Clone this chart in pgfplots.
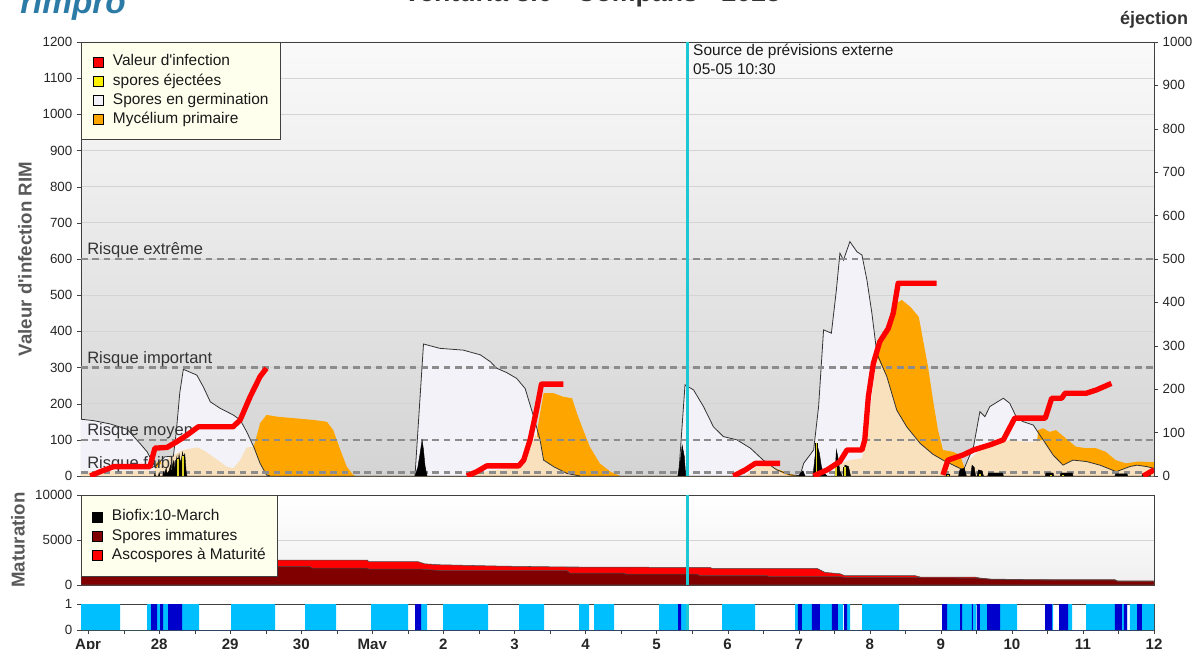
\documentclass[border=0pt]{standalone}
\usepackage{pgfplots}
\pgfplotsset{compat=1.18}
\usepackage{fontspec}
\setmainfont{Liberation Sans}
\definecolor{germ}{HTML}{F2F2F8}
\definecolor{myc}{HTML}{FFA500}
\definecolor{wheatc}{HTML}{FAE1BD}
\definecolor{cyanl}{HTML}{1EC8D2}
\definecolor{lblue}{HTML}{00BFFF}
\definecolor{dblue}{HTML}{0000CD}
\definecolor{ivory}{HTML}{FFFFEE}
\definecolor{darkred}{HTML}{800000}
\definecolor{logo}{HTML}{2B7BA6}
\pgfplotsset{
 base/.style={scale only axis, width=804.75pt, xmin=-0.1, xmax=15,
   tick label style={font=\fontsize{10}{12}\selectfont, text=black!85},
   /pgf/number format/assume math mode=true,
   /pgf/number format/1000 sep={},
   scaled y ticks=false,
   axis line style={black!75},
   tick style={black!75},
   tick align=outside,
   major tick length=3pt, minor tick length=3pt,
 },
 sq/.style={legend image code/.code={\draw[fill=#1, draw=black, line width=0.6pt] (0pt,-3.75pt) rectangle (7.5pt,3.75pt);}},
 leg/.style={legend style={at={(0,1)}, anchor=north west, fill=ivory, draw=black!75, line width=0.75pt,
   font=\fontsize{11.6}{13.9}\selectfont, text=black!90, inner xsep=8.25pt, inner ysep=#1, row sep=1.2pt,
   nodes={inner sep=1pt, text depth=2.6pt, text height=8.6pt},
   /tikz/every odd column/.append style={column sep=6.25pt}},
   legend cell align=left},
 risk/.style={black!45, dash pattern=on 5pt off 3.5pt, line width=1.8pt, forget plot},
}
\tikzset{rtxt/.style={anchor=base west, font=\fontsize{12.4}{14}\selectfont, text=black!80, inner sep=0pt, yshift=3.2pt}}
\begin{document}
\begin{tikzpicture}
% ---------- main panel: areas ----------
\begin{axis}[base, at={(60.75pt,-357pt)}, anchor=south west, height=325.5pt,
  ymin=0, ymax=1200, ytick={0,100,...,1200}, ytick pos=left, xtick=\empty,
  ymajorgrids, grid style={black!17, line width=0.6pt},
  axis background/.style={top color=black!2, bottom color=black!17}]
\addplot[fill=germ, draw=none] coordinates {
(-0.1,157) (0.08,153) (0.31,144) (0.55,129) (0.73,90) (0.83,67) (0.94,26) (1.08,53) (1.20,55) (1.24,120) (1.29,230) (1.34,295) (1.53,279) (1.62,247) (1.72,205) (1.86,187) (2.04,169) (2.14,155) (2.23,123) (2.33,81) (2.42,35) (2.51,3) (2.56,0)
(4.60,0) (4.72,365) (4.95,353) (5.28,348) (5.52,335) (5.66,316) (5.75,298) (5.89,286) (6.03,270) (6.15,242) (6.27,164) (6.36,100) (6.41,44) (6.55,26) (6.74,7) (6.92,0)
(8.31,0) (8.40,252) (8.52,238) (8.66,192) (8.80,136) (8.94,109) (9.13,100) (9.32,77) (9.50,44) (9.69,17) (9.88,3) (10.02,1) (10.07,35) (10.21,72) (10.28,192) (10.35,404) (10.46,395) (10.53,514) (10.58,616) (10.63,597) (10.72,648) (10.82,620) (10.89,611) (10.96,542) (11.03,450) (11.10,339) (11.24,275) (11.38,182) (11.52,136) (11.71,90) (11.89,60) (12.03,44) (12.27,21) (12.32,17) (12.46,81) (12.55,178) (12.62,164) (12.69,192) (12.88,215) (12.97,201) (13.07,160) (13.16,150) (13.30,141) (13.44,100) (13.58,58) (13.72,30) (13.86,44) (14.05,40) (14.24,30) (14.47,12) (14.66,26) (14.76,30) (14.90,26) (15.0,21)
} \closedcycle;
\addplot[fill=myc, draw=none] coordinates {
(0.93,0) (0.96,35) (1.02,45) (1.06,0)
(2.28,0) (2.33,81) (2.37,109) (2.42,146) (2.51,169) (2.66,164) (2.89,160) (3.17,155) (3.36,150) (3.45,127) (3.55,72) (3.64,26) (3.73,3) (3.77,0)
(6.30,0) (6.32,127) (6.41,229) (6.55,229) (6.69,219) (6.81,215) (6.88,173) (6.95,136) (7.06,81) (7.20,35) (7.35,12) (7.49,0)
(9.55,0) (9.62,25) (9.75,15) (9.90,5) (9.98,0)
(11.07,0) (11.10,330) (11.19,376) (11.28,413) (11.38,478) (11.45,487) (11.57,468) (11.69,440) (11.75,376) (11.82,302) (11.89,210) (11.96,127) (12.03,72) (12.17,67) (12.27,58) (12.32,30) (12.36,0)
(13.31,0) (13.37,127) (13.44,132) (13.53,122) (13.62,127) (13.76,104) (13.90,81) (14.04,77) (14.18,77) (14.32,67) (14.46,44) (14.60,35) (14.79,40) (15.0,38)
} \closedcycle;
\addplot[fill=wheatc, draw=none] coordinates {
(-0.1,12) (0.5,14) (0.92,15) (1.03,35) (1.16,53) (1.34,72) (1.53,79) (1.62,72) (1.76,53) (1.95,26) (2.04,21) (2.14,44) (2.23,79) (2.33,81) (2.42,35) (2.51,3) (2.56,0)
(5.33,0) (5.66,15) (5.98,20) (6.12,40) (6.22,72) (6.29,115) (6.36,100) (6.41,44) (6.55,26) (6.74,7) (6.92,0)
(9.25,0) (9.40,25) (9.60,28) (9.69,17) (9.80,5) (9.90,0)
(10.50,0) (10.60,35) (10.72,44) (10.89,49) (10.96,109) (11.03,219) (11.10,330) (11.24,275) (11.38,182) (11.52,136) (11.71,90) (11.89,60) (12.03,44) (12.27,21) (12.32,17) (12.40,44) (12.55,72) (12.79,86) (12.97,100) (13.16,95) (13.35,95) (13.44,100) (13.58,58) (13.72,30) (13.86,44) (14.05,40) (14.24,30) (14.47,12) (14.66,26) (14.76,30) (14.90,26) (15.0,21)
} \closedcycle;
\addplot[black!80, line width=0.6pt] coordinates {
(-0.1,157) (0.08,153) (0.31,144) (0.55,129) (0.73,90) (0.83,67) (0.94,26) (1.08,53) (1.20,55) (1.24,120) (1.29,230) (1.34,295) (1.53,279) (1.62,247) (1.72,205) (1.86,187) (2.04,169) (2.14,155) (2.23,123) (2.33,81) (2.42,35) (2.51,3) (2.56,0)
};
\addplot[black!80, line width=0.6pt] coordinates {
(4.60,0) (4.72,365) (4.95,353) (5.28,348) (5.52,335) (5.66,316) (5.75,298) (5.89,286) (6.03,270) (6.15,242) (6.27,164) (6.36,100) (6.41,44) (6.55,26) (6.74,7) (6.92,0)
};
\addplot[black!80, line width=0.6pt] coordinates {
(8.31,0) (8.40,252) (8.52,238) (8.66,192) (8.80,136) (8.94,109) (9.13,100) (9.32,77) (9.50,44) (9.69,17) (9.88,3) (10.02,1) (10.07,35) (10.21,72) (10.28,192) (10.35,404) (10.46,395) (10.53,514) (10.58,616) (10.63,597) (10.72,648) (10.82,620) (10.89,611) (10.96,542) (11.03,450) (11.10,339) (11.24,275) (11.38,182) (11.52,136) (11.71,90) (11.89,60) (12.03,44) (12.27,21) (12.32,17) (12.46,81) (12.55,178) (12.62,164) (12.69,192) (12.88,215) (12.97,201) (13.07,160) (13.16,150) (13.30,141) (13.44,100) (13.58,58) (13.72,30) (13.86,44) (14.05,40) (14.24,30) (14.47,12) (14.66,26) (14.76,30) (14.90,26) (15.0,21)
};
\addplot[risk] coordinates {(-0.1,10) (15,10)};
\addplot[risk] coordinates {(-0.1,100) (15,100)};
\addplot[risk] coordinates {(-0.1,300) (15,300)};
\addplot[risk] coordinates {(-0.1,600) (15,600)};
\node[rtxt] at (axis cs:-0.015,600) {Risque extrême};
\node[rtxt] at (axis cs:-0.015,300) {Risque important};
\node[rtxt] at (axis cs:-0.015,100) {Risque moyen};
\node[rtxt] at (axis cs:-0.015,10) {Risque faible};
\end{axis}
% ---------- main panel: ejection (right axis) ----------
\begin{axis}[base, at={(60.75pt,-357pt)}, anchor=south west, height=325.5pt,
  ymin=0, ymax=1000, axis y line*=right, axis x line=none, ytick={0,100,...,1000}]
\addplot[fill=black, draw=black, line width=0.3pt] coordinates {
(0.93,0) (0.94,6) (0.95,0) (0.99,0) (1.0,8) (1.01,0) (1.05,0) (1.06,10) (1.07,3) (1.10,18) (1.11,5) (1.14,12) (1.16,25) (1.17,8) (1.20,35) (1.22,15) (1.25,45) (1.26,20) (1.28,50) (1.30,25) (1.33,55) (1.35,30) (1.36,52) (1.38,10) (1.39,0)
(4.60,0) (4.64,20) (4.67,50) (4.70,83) (4.72,60) (4.74,25) (4.77,0)
(8.30,0) (8.33,30) (8.36,71) (8.39,45) (8.41,0)
(10.00,0) (10.03,8) (10.06,12) (10.09,0) (10.20,0) (10.23,45) (10.26,71) (10.29,53) (10.32,21) (10.35,8) (10.40,0) (10.51,0) (10.53,60) (10.55,45) (10.58,10) (10.61,0) (10.63,0) (10.65,25) (10.70,22) (10.73,0)
(12.25,0) (12.27,15) (12.33,18) (12.36,0) (12.42,0) (12.44,25) (12.47,20) (12.49,0) (12.51,0) (12.53,14) (12.58,12) (12.60,0) (12.66,0) (12.67,7) (12.87,7) (12.88,0) (13.47,0) (13.48,7) (13.58,7) (13.59,0) (13.68,0) (13.69,7) (13.85,7) (13.86,0) (14.45,0) (14.46,5) (14.62,5) (14.63,0) (14.83,0) (14.84,5) (14.94,5) (14.95,0)
} \closedcycle;
\addplot[ycomb, black, line width=2.4pt] coordinates {(1.27,41) (1.34,48) (10.25,76) (10.53,30) (10.65,21) (12.10,4) (12.55,5) (13.55,4) (13.72,4)};
\addplot[ycomb, yellow!85!black, line width=1.4pt] coordinates {(1.27,40) (1.34,47) (10.25,75) (10.53,29) (10.65,20) (12.10,3) (12.55,4) (13.55,3) (13.72,3)};
\end{axis}
% ---------- main panel: infection line, legend, forecast line ----------
\begin{axis}[base, at={(60.75pt,-357pt)}, anchor=south west, height=325.5pt,
  ymin=0, ymax=1200, hide axis, leg=8pt]
\addlegendimage{sq=red}\addlegendentry{Valeur d\textquotesingle infection}
\addlegendimage{sq=yellow}\addlegendentry{spores éjectées}
\addlegendimage{sq=germ}\addlegendentry{Spores en germination}
\addlegendimage{sq=myc}\addlegendentry{Mycélium primaire}
\addplot[red, line width=4pt, line join=round, forget plot] coordinates {(0.03,0) (0.17,12) (0.36,26) (0.87,26) (0.94,77) (1.11,79) (1.25,95) (1.39,113) (1.55,136) (2.04,136) (2.14,155) (2.28,219) (2.42,275) (2.51,298)};
\addplot[red, line width=4pt, line join=round, forget plot] coordinates {(5.33,0) (5.47,12) (5.61,28) (6.06,28) (6.13,44) (6.22,100) (6.31,182) (6.38,254) (6.69,254)};
\addplot[red, line width=4pt, line join=round, forget plot] coordinates {(9.08,0) (9.25,17) (9.39,35) (9.74,35)};
\addplot[red, line width=4pt, line join=round, forget plot] coordinates {(10.21,0) (10.40,17) (10.58,40) (10.68,72) (10.89,72) (10.93,100) (10.98,219) (11.05,311) (11.14,371) (11.26,408) (11.33,450) (11.40,533) (11.94,533)};
\addplot[red, line width=4pt, line join=round, forget plot] coordinates {(12.03,3) (12.10,44) (12.31,58) (12.46,72) (12.69,86) (12.88,100) (13.04,160) (13.47,160) (13.56,215) (13.70,215) (13.75,229) (14.05,229) (14.19,238) (14.40,256)};
\addplot[red, line width=4pt, line join=round, forget plot] coordinates {(14.85,0) (15.0,17)};
\addplot[cyanl, line width=2.3pt, forget plot] coordinates {(8.44,0) (8.44,1200)};
\node[anchor=north west, align=left, font=\fontsize{11.6}{14.25}\selectfont, text=black!90, inner sep=0pt, xshift=3.8pt, yshift=-1.5pt] at (axis cs:8.44,1200) {Source de prévisions externe\\05-05 10:30};
\end{axis}
% ---------- maturation panel ----------
\begin{axis}[base, at={(60.75pt,-438.75pt)}, anchor=south west, height=67.5pt,
  ymin=0, ymax=10000, ytick={0,5000,10000}, ytick pos=left, xtick=\empty,
  ymajorgrids, grid style={black!17, line width=0.6pt},
  axis background/.style={top color=white, bottom color=black!6}, leg=9.5pt,
  legend style={inner xsep=7.5pt}]
\addlegendimage{sq=black}\addlegendentry{Biofix:10-March}
\addlegendimage{sq=darkred}\addlegendentry{Spores immatures}
\addlegendimage{sq=red}\addlegendentry{Ascospores à Maturité}
\addplot[fill=red, draw=black!70, line width=0.4pt, forget plot] coordinates {
(-0.1,2770) (3.93,2770) (3.95,2600) (4.64,2600) (4.74,2350) (4.95,2250) (5.80,2100) (6.74,2000) (7.87,1990) (7.91,1956) (8.75,1956) (8.78,1845) (10.26,1845) (10.37,1400) (10.58,1250) (10.65,1033) (11.64,1033) (11.71,886) (12.48,886) (12.55,775) (12.69,664) (13.33,590) (14.45,590) (14.49,450) (15,450)
} \closedcycle;
\addplot[fill=darkred, draw=black!70, line width=0.4pt, forget plot] coordinates {
(-0.1,2070) (3.12,2070) (3.15,1880) (3.93,1880) (3.95,1770) (4.67,1770) (4.99,1590) (6.74,1590) (6.78,1330) (7.53,1330) (7.57,1220) (8.57,1220) (8.61,1030) (9.55,1030) (9.59,920) (10.58,920) (10.65,850) (11.64,850) (11.71,800) (12.48,770) (12.69,640) (13.33,560) (14.45,530) (14.49,400) (15,400)
} \closedcycle;
\addplot[cyanl, line width=2.3pt, forget plot] coordinates {(8.44,0) (8.44,10000)};
\end{axis}
% ---------- wetness panel ----------
\begin{axis}[base, at={(60.75pt,-472.5pt)}, anchor=south west, height=19.5pt,
  ymin=0, ymax=1, ytick={0,1}, ytick pos=left, xtick pos=bottom,
  xtick={0,1,...,15}, xticklabels={Apr,28,29,30,May,2,3,4,5,6,7,8,9,10,11,12},
  minor xtick={0.5,1.5,...,14.5},
  xticklabel style={font=\bfseries\fontsize{11.3}{13}\selectfont, text=black!85}]
\addplot[fill=lblue, draw=none] coordinates {
(-0.1,0) (-0.1,1) (0.450,1) (0.450,0)
(0.830,0) (0.830,1) (1.562,1) (1.562,0)
(2.012,0) (2.012,1) (2.631,1) (2.631,0)
(3.053,0) (3.053,1) (3.490,1) (3.490,0)
(3.982,0) (3.982,1) (4.503,1) (4.503,0)
(4.601,0) (4.601,1) (4.770,1) (4.770,0)
(4.995,0) (4.995,1) (5.628,1) (5.628,0)
(6.065,0) (6.065,1) (6.416,1) (6.416,0)
(6.909,0) (6.909,1) (7.050,1) (7.050,0)
(7.120,0) (7.120,1) (7.401,1) (7.401,0)
(8.034,0) (8.034,1) (8.442,1) (8.442,0)
(8.921,0) (8.921,1) (9.385,1) (9.385,0)
(9.948,0) (9.948,1) (10.624,1) (10.624,0)
(10.638,0) (10.638,1) (10.722,1) (10.722,0)
(10.891,0) (10.891,1) (11.412,1) (11.412,0)
(12.017,0) (12.017,1) (12.495,1) (12.495,0)
(12.509,0) (12.509,1) (13.072,1) (13.072,0)
(13.466,0) (13.466,1) (13.579,1) (13.579,0)
(13.663,0) (13.663,1) (13.846,1) (13.846,0)
(14.043,0) (14.043,1) (14.620,1) (14.620,0)
(14.662,0) (14.662,1) (15.0,1) (15.0,0)
} \closedcycle;
\addplot[fill=dblue, draw=none] coordinates {
(0.886,0) (0.886,1) (0.971,1) (0.971,0)
(1.013,0) (1.013,1) (1.055,1) (1.055,0)
(1.126,0) (1.126,1) (1.323,1) (1.323,0)
(4.601,0) (4.601,1) (4.686,1) (4.686,0)
(8.302,0) (8.302,1) (8.344,1) (8.344,0)
(9.990,0) (9.990,1) (10.046,1) (10.046,0)
(10.186,0) (10.186,1) (10.298,1) (10.298,0)
(10.467,0) (10.467,1) (10.551,1) (10.551,0)
(10.638,0) (10.638,1) (10.681,1) (10.681,0)
(12.017,0) (12.017,1) (12.087,1) (12.087,0)
(12.270,0) (12.270,1) (12.298,1) (12.298,0)
(12.438,0) (12.438,1) (12.452,1) (12.452,0)
(12.509,0) (12.509,1) (12.551,1) (12.551,0)
(12.650,0) (12.650,1) (12.833,1) (12.833,0)
(13.466,0) (13.466,1) (13.565,1) (13.565,0)
(13.663,0) (13.663,1) (13.790,1) (13.790,0)
(14.451,0) (14.451,1) (14.549,1) (14.549,0)
(14.577,0) (14.577,1) (14.620,1) (14.620,0)
(14.761,0) (14.761,1) (14.831,1) (14.831,0)
} \closedcycle;
\addplot[cyanl, line width=2.3pt, forget plot] coordinates {(8.44,0) (8.44,1)};
\end{axis}
% ---------- titles and labels ----------
\node[anchor=base, font=\bfseries\fontsize{20}{24}\selectfont, text=black!80] at (444pt,-1.5pt) {Venturia 3.0 - Compans - 2025};
\node[anchor=base west, font=\bfseries\itshape\fontsize{25}{30}\selectfont, text=logo, inner sep=0pt] at (15pt,-10.5pt) {rimpro};
\node[anchor=base, font=\bfseries\fontsize{13.5}{16}\selectfont, text=black!80] at (865.5pt,-18.5pt) {éjection};
\node[rotate=90, font=\bfseries\fontsize{14}{16}\selectfont, text=black!65] at (18.75pt,-194.25pt) {Valeur d\textquotesingle infection RIM};
\node[rotate=90, font=\bfseries\fontsize{14}{16}\selectfont, text=black!65] at (13.5pt,-405pt) {Maturation};
\pgfresetboundingbox
\path[use as bounding box] (0pt,0pt) rectangle (894.75pt,-486.75pt);
\end{tikzpicture}
\end{document}
